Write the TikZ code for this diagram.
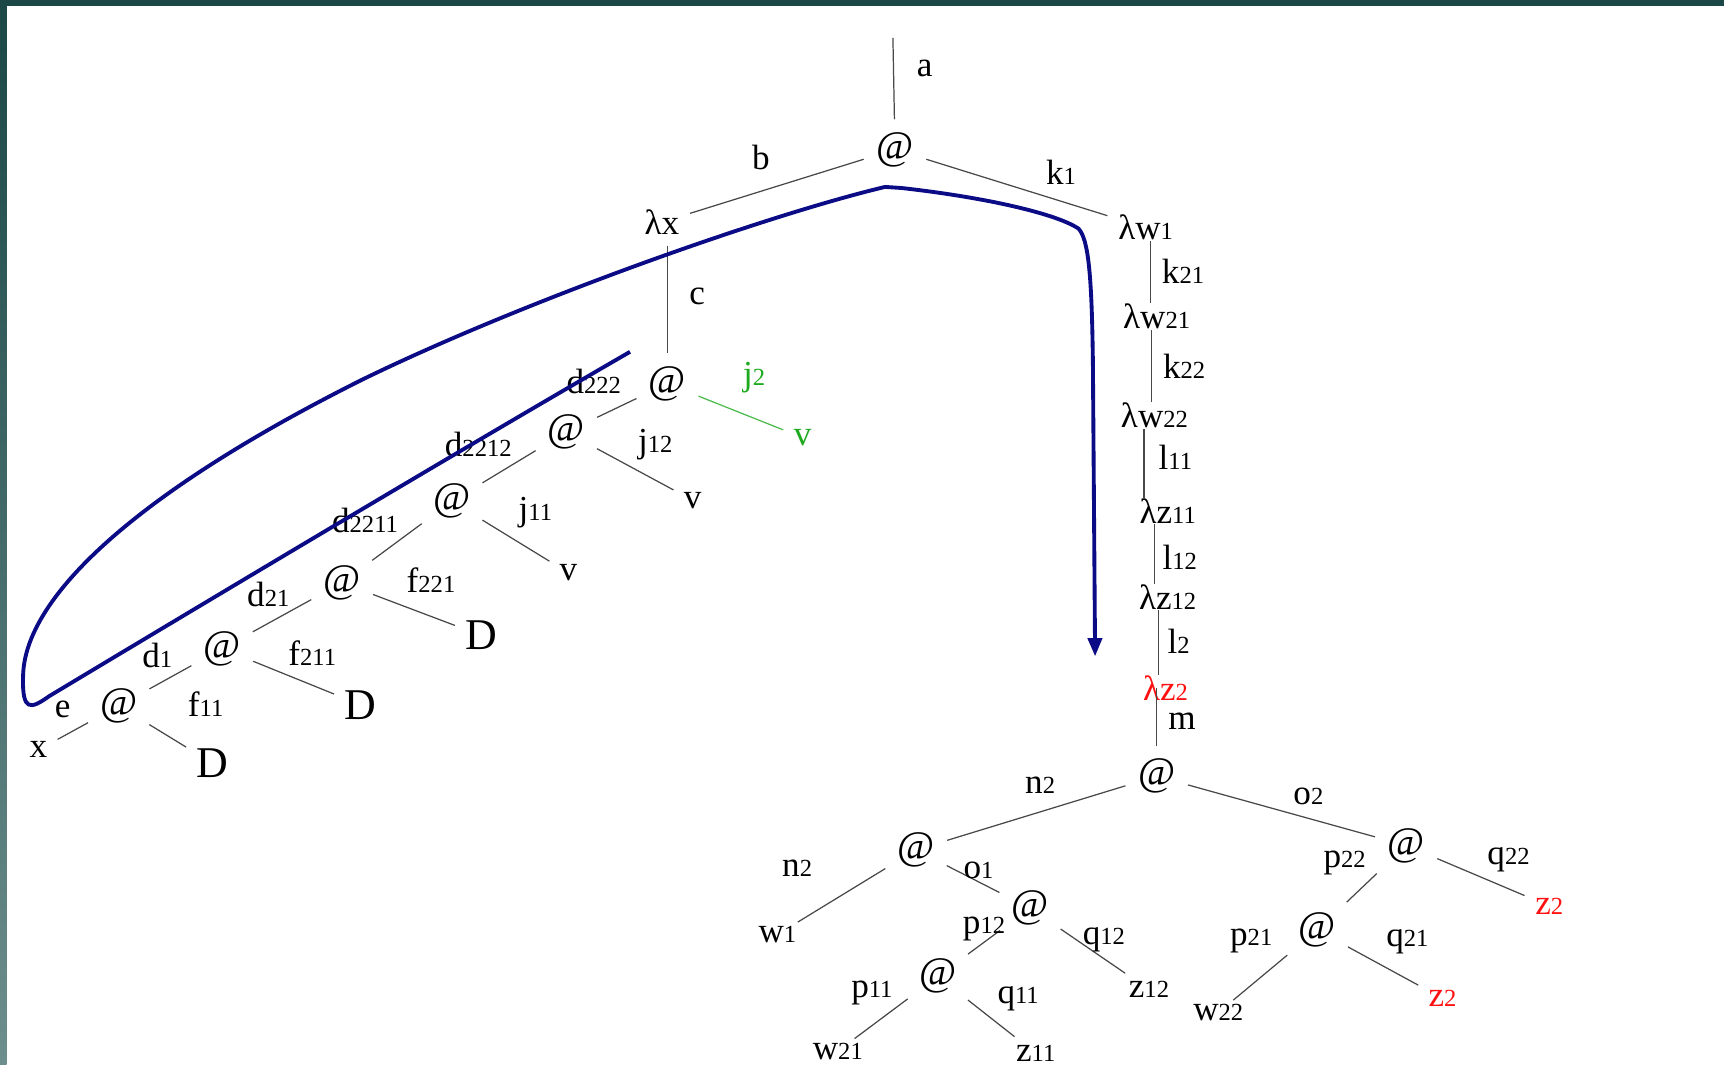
\documentclass[tikz,border=0pt]{standalone}
\usepackage{fontspec}
\setmainfont{Liberation Serif}
\usepackage{tikz}
\usetikzlibrary{arrows.meta}
\definecolor{trnavy}{HTML}{0B0B86}
\definecolor{trteal}{HTML}{1B4747}
\definecolor{trtealpale}{HTML}{6C8E8C}
\definecolor{trgreen}{HTML}{1EAA1E}
\definecolor{trred}{HTML}{FF1010}
\definecolor{trgray}{HTML}{484848}
\newcommand{\lsub}[2]{#1{\fontsize{7}{8}\selectfont #2}}

\begin{document}
\begin{tikzpicture}[
  x=0.011cm, y=-0.011cm,
  lbl/.style={font=\fontsize{10}{12}\selectfont, inner sep=1pt},
  app/.style={font=\fontsize{11.5}{13}\selectfont, inner sep=1.5pt},
  bigd/.style={font=\fontsize{12.5}{14}\selectfont, inner sep=1pt},
  edge/.style={draw=trgray, line width=0.35pt, shorten <=2pt, shorten >=2pt},
  chain/.style={edge, shorten <=-1pt, shorten >=-1pt},
  sweep/.style={draw=trnavy, line width=1.1pt, line join=round,
    -{Triangle[length=5.2pt, width=4pt]}},
]
  % frame
  \fill[white] (0,0) rectangle (1568,968);
  \shade[top color=trteal, bottom color=trtealpale] (0,0) rectangle (6,968);
  \fill[trteal] (0,0) rectangle (1568,5.5);

  % upper tree
  \coordinate (top) at (812,28);
  \node[app] (root) at (814,136) {@};
  \node[lbl] (lx) at (602,202) {λx};
  \node[lbl] (lw1) at (1042,207) {λ\lsub{w}{1}};
  \node[app] (app1) at (607,349) {@};
  \node[app] (app2) at (515,393) {@};
  \node[app] (app3) at (411,456) {@};
  \node[app] (app4) at (311,530) {@};
  \node[app] (app5) at (202,590) {@};
  \node[app] (app6) at (108,642) {@};
  \node[lbl, text=trgreen] (vj2) at (730,398) {v};
  \node[lbl] (vj12) at (630,455) {v};
  \node[lbl] (vj11) at (517,521) {v};
  \node[bigd] (df221) at (438,578) {D};
  \node[bigd] (df211) at (328,641) {D};
  \node[bigd] (df11) at (193,694) {D};
  \node[lbl] (vx) at (35,682) {x};

  \draw[edge] (top) -- (root);
  \draw[edge] (root) -- (lx);
  \draw[edge] (root) -- (lw1);
  \draw[edge] (app1 |- lx.south) -- (app1);
  \draw[edge, draw=trgreen!80] (app1) -- (vj2);
  \draw[edge] (app1) -- (app2);
  \draw[edge] (app2) -- (vj12);
  \draw[edge] (app2) -- (app3);
  \draw[edge] (app3) -- (vj11);
  \draw[edge] (app3) -- (app4);
  \draw[edge] (app4) -- (df221);
  \draw[edge] (app4) -- (app5);
  \draw[edge] (app5) -- (df211);
  \draw[edge] (app5) -- (app6);
  \draw[edge] (app6) -- (df11);
  \draw[edge] (app6) -- (vx);

  \node[lbl] (la) at (841,62) {a};
  \node[lbl] (lb) at (692,143) {b};
  \node[lbl] (lk1) at (965,157) {\lsub{k}{1}};
  \node[lbl] (lc) at (634,270) {c};
  \node[lbl, text=trgreen] (lj2) at (686,343) {\lsub{j}{2}};
  \node[lbl] (ld222) at (540,347) {\lsub{d}{222}};
  \node[lbl] (lj12) at (596,404) {\lsub{j}{12}};
  \node[lbl] (ld2212) at (435,404) {\lsub{d}{2212}};
  \node[lbl] (lj11) at (487,466) {\lsub{j}{11}};
  \node[lbl] (ld2211) at (332,473) {\lsub{d}{2211}};
  \node[lbl] (lf221) at (392,528) {\lsub{f}{221}};
  \node[lbl] (ld21) at (244,541) {\lsub{d}{21}};
  \node[lbl] (lf211) at (284,594) {\lsub{f}{211}};
  \node[lbl] (ld1) at (143,596) {\lsub{d}{1}};
  \node[lbl] (lf11) at (187,640) {\lsub{f}{11}};
  \node[lbl] (le) at (57,645) {e};

  % lambda chain
  \node[lbl] (lw21) at (1052,288) {λ\lsub{w}{21}};
  \node[lbl] (lw22) at (1050,378) {λ\lsub{w}{22}};
  \node[lbl] (lz11) at (1062,465) {λ\lsub{z}{11}};
  \node[lbl] (lz12) at (1062,543) {λ\lsub{z}{12}};
  \node[lbl, text=trred] (lz2) at (1060,626) {λ\lsub{z}{2}};
  \node[lbl] (lk21) at (1076,247) {\lsub{k}{21}};
  \node[lbl] (lk22) at (1077,333) {\lsub{k}{22}};
  \node[lbl] (ll11) at (1069,416) {\lsub{l}{11}};
  \node[lbl] (ll12) at (1073,507) {\lsub{l}{12}};
  \node[lbl] (ll2) at (1072,583) {\lsub{l}{2}};
  \node[lbl] (lm) at (1075,656) {m};
  \draw[chain] ([xshift=-2pt]lk21.west |- lw1.south) -- ([xshift=-2pt]lk21.west |- lw21.north);
  \draw[chain] ([xshift=-2pt]lk22.west |- lw21.south) -- ([xshift=-2pt]lk22.west |- lw22.north);
  \draw[chain] ([xshift=-3pt]ll11.west |- lw22.south) -- ([xshift=-3pt]ll11.west |- lz11.north);
  \draw[chain] ([xshift=-1pt]ll12.west |- lz11.south) -- ([xshift=-1pt]ll12.west |- lz12.north);
  \draw[chain] ([xshift=-1.5pt]ll2.west |- lz12.south) -- ([xshift=-1.5pt]ll2.west |- lz2.north);

  % lower tree
  \node[app] (appm) at (1052,706) {@};
  \node[app] (appn) at (833,773) {@};
  \node[app] (appo) at (1279,769) {@};
  \node[app] (appo1) at (937,826) {@};
  \node[app] (appp12) at (853,888) {@};
  \node[app] (appp22) at (1198,846) {@};
  \node[lbl] (w1) at (707,850) {\lsub{w}{1}};
  \node[lbl] (z12) at (1045,900) {\lsub{z}{12}};
  \node[lbl] (w21) at (762,956) {\lsub{w}{21}};
  \node[lbl] (z11) at (942,958) {\lsub{z}{11}};
  \node[lbl, text=trred] (z2a) at (1409,824) {\lsub{z}{2}};
  \node[lbl] (w22) at (1108,921) {\lsub{w}{22}};
  \node[lbl, text=trred] (z2b) at (1312,908) {\lsub{z}{2}};

  \draw[edge, shorten <=0pt] (appm |- lz2.center) -- (appm);
  \draw[edge] (appm) -- (appn);
  \draw[edge] (appm) -- (appo);
  \draw[edge, shorten >=0pt] (appn) -- (w1);
  \draw[edge] (appn) -- (appo1);
  \draw[edge] (appo1) -- (appp12);
  \draw[edge] (appo1) -- (z12);
  \draw[edge, shorten >=0pt] (appp12) -- (w21);
  \draw[edge] (appp12) -- (z11);
  \draw[edge] (appo) -- (appp22);
  \draw[edge] (appo) -- (z2a);
  \draw[edge, shorten >=0pt] (appp22) -- (w22);
  \draw[edge] (appp22) -- (z2b);

  \node[lbl] (ln2) at (946,714) {\lsub{n}{2}};
  \node[lbl] (lo2) at (1190,724) {\lsub{o}{2}};
  \node[lbl] (ln2b) at (725,790) {\lsub{n}{2}};
  \node[lbl] (lo1) at (890,792) {\lsub{o}{1}};
  \node[lbl] (lp12) at (895,845) {\lsub{p}{12}};
  \node[lbl] (lq12) at (1004,855) {\lsub{q}{12}};
  \node[lbl] (lp11) at (793,903) {\lsub{p}{11}};
  \node[lbl] (lq11) at (926,908) {\lsub{q}{11}};
  \node[lbl] (lp22) at (1223,785) {\lsub{p}{22}};
  \node[lbl] (lq22) at (1372,782) {\lsub{q}{22}};
  \node[lbl] (lp21) at (1138,856) {\lsub{p}{21}};
  \node[lbl] (lq21) at (1280,857) {\lsub{q}{21}};

  % traversal
  \coordinate (sweepin) at (573,320);
  \coordinate (sweepout) at (996,597);
  \draw[sweep] (sweepin) .. controls (400,420) and (150,570) .. (45,633)
    .. controls (28,645) and (20,648) .. (21,615)
    .. controls (22,545) and (120,450) .. (330,345)
    .. controls (480,272) and (700,195) .. (805,170) -- (820,171)
    .. controls (900,180) and (962,195) .. (981,208)
    .. controls (990,218) and (993,250) .. (994,330) -- (sweepout);
\end{tikzpicture}
\end{document}
